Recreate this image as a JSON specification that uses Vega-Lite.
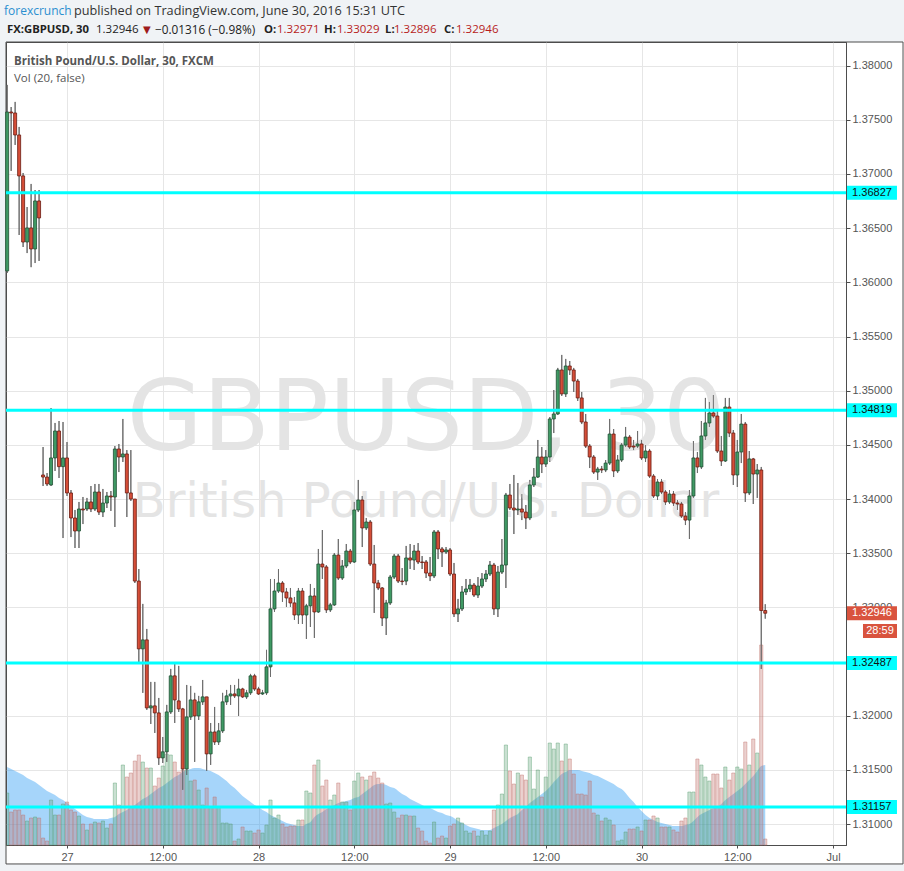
{
"$schema": "https://vega.github.io/schema/vega-lite/v6.json",
"width": 840, "height": 803,
"autosize": {"type": "none"},
"padding": {"left": 6, "top": 42, "right": 58, "bottom": 26},
"background": "white",
"config": {"view": {"stroke": "#4d4d4d", "strokeWidth": 1}},
"datasets": {
"lv": [{"p":1.36827},{"p":1.34819},{"p":1.32487},{"p":1.31157}],
"k": [
{"n":-15,"o":1.36105,"h":1.37822,"l":1.36086,"c":1.37572,"v":520,"m":780},
{"n":-14,"o":1.37572,"h":1.37618,"l":1.37028,"c":1.37563,"v":330,"m":760},
{"n":-13,"o":1.37563,"h":1.37665,"l":1.37268,"c":1.3736,"v":350,"m":740},
{"n":-12,"o":1.3736,"h":1.37434,"l":1.36437,"c":1.36982,"v":350,"m":720},
{"n":-11,"o":1.36982,"h":1.37009,"l":1.36326,"c":1.36372,"v":300,"m":700},
{"n":-10,"o":1.36372,"h":1.36695,"l":1.3627,"c":1.36502,"v":240,"m":670},
{"n":-9,"o":1.36502,"h":1.36908,"l":1.3614,"c":1.36308,"v":270,"m":650},
{"n":-8,"o":1.36308,"h":1.36852,"l":1.36178,"c":1.36751,"v":280,"m":630},
{"n":-7,"o":1.36751,"h":1.36852,"l":1.36197,"c":1.36594,"v":270,"m":600},
{"n":-6,"o":1.34222,"h":1.3448,"l":1.3412,"c":1.34203,"v":70,"m":570},
{"n":-5,"o":1.34203,"h":1.3424,"l":1.3412,"c":1.34139,"v":40,"m":540},
{"n":-4,"o":1.3413,"h":1.3484,"l":1.3412,"c":1.34379,"v":450,"m":520},
{"n":-3,"o":1.34379,"h":1.34702,"l":1.34259,"c":1.34628,"v":300,"m":500},
{"n":-2,"o":1.34628,"h":1.3472,"l":1.34194,"c":1.34299,"v":300,"m":470},
{"n":-1,"o":1.34299,"h":1.34711,"l":1.3364,"c":1.34379,"v":410,"m":450},
{"n":0,"o":1.34379,"h":1.34526,"l":1.34028,"c":1.34056,"v":430,"m":420},
{"n":1,"o":1.34056,"h":1.34083,"l":1.33649,"c":1.33825,"v":350,"m":390},
{"n":2,"o":1.33825,"h":1.33899,"l":1.33548,"c":1.33705,"v":330,"m":360},
{"n":3,"o":1.33705,"h":1.33973,"l":1.33548,"c":1.33908,"v":290,"m":330},
{"n":4,"o":1.33908,"h":1.34019,"l":1.33769,"c":1.33899,"v":210,"m":300},
{"n":5,"o":1.33908,"h":1.3401,"l":1.3389,"c":1.33973,"v":150,"m":280},
{"n":6,"o":1.33973,"h":1.3412,"l":1.3388,"c":1.33908,"v":210,"m":270},
{"n":7,"o":1.33908,"h":1.34139,"l":1.3389,"c":1.34065,"v":230,"m":260},
{"n":8,"o":1.34065,"h":1.34139,"l":1.33853,"c":1.3388,"v":220,"m":260},
{"n":9,"o":1.3388,"h":1.34093,"l":1.33834,"c":1.33963,"v":240,"m":260},
{"n":10,"o":1.33963,"h":1.34065,"l":1.33917,"c":1.34028,"v":170,"m":260},
{"n":11,"o":1.34028,"h":1.34074,"l":1.3389,"c":1.34019,"v":210,"m":270},
{"n":12,"o":1.34019,"h":1.34489,"l":1.33742,"c":1.34462,"v":620,"m":280},
{"n":13,"o":1.34462,"h":1.34508,"l":1.34249,"c":1.34388,"v":400,"m":310},
{"n":14,"o":1.34388,"h":1.34739,"l":1.34342,"c":1.34416,"v":800,"m":330},
{"n":15,"o":1.34416,"h":1.34452,"l":1.33834,"c":1.34056,"v":680,"m":350},
{"n":16,"o":1.34056,"h":1.34452,"l":1.33982,"c":1.34,"v":720,"m":380},
{"n":17,"o":1.34,"h":1.34,"l":1.33225,"c":1.33243,"v":840,"m":400},
{"n":18,"o":1.33243,"h":1.33354,"l":1.32488,"c":1.32617,"v":900,"m":430},
{"n":19,"o":1.32617,"h":1.33032,"l":1.32211,"c":1.327,"v":830,"m":460},
{"n":20,"o":1.327,"h":1.32801,"l":1.32054,"c":1.32072,"v":770,"m":480},
{"n":21,"o":1.32072,"h":1.32312,"l":1.31924,"c":1.32091,"v":770,"m":510},
{"n":22,"o":1.32091,"h":1.32312,"l":1.31841,"c":1.32026,"v":590,"m":540},
{"n":23,"o":1.32026,"h":1.32164,"l":1.31546,"c":1.31611,"v":670,"m":570},
{"n":24,"o":1.31611,"h":1.31804,"l":1.31564,"c":1.31667,"v":790,"m":590},
{"n":25,"o":1.31667,"h":1.321,"l":1.31574,"c":1.32035,"v":910,"m":620},
{"n":26,"o":1.32035,"h":1.32432,"l":1.32017,"c":1.32368,"v":900,"m":650},
{"n":27,"o":1.32368,"h":1.32478,"l":1.31933,"c":1.32146,"v":830,"m":680},
{"n":28,"o":1.32137,"h":1.3246,"l":1.32035,"c":1.32063,"v":730,"m":700},
{"n":29,"o":1.32063,"h":1.32072,"l":1.31316,"c":1.31509,"v":750,"m":730},
{"n":30,"o":1.31509,"h":1.32284,"l":1.31453,"c":1.31989,"v":750,"m":750},
{"n":31,"o":1.31989,"h":1.32275,"l":1.31961,"c":1.32146,"v":640,"m":760},
{"n":32,"o":1.32146,"h":1.32211,"l":1.31574,"c":1.31998,"v":650,"m":770},
{"n":33,"o":1.31998,"h":1.32183,"l":1.31961,"c":1.32128,"v":550,"m":770},
{"n":34,"o":1.32128,"h":1.3233,"l":1.321,"c":1.32174,"v":400,"m":760},
{"n":35,"o":1.32174,"h":1.32174,"l":1.3149,"c":1.31648,"v":570,"m":750},
{"n":36,"o":1.31648,"h":1.31933,"l":1.31546,"c":1.3185,"v":380,"m":740},
{"n":37,"o":1.3185,"h":1.32081,"l":1.3173,"c":1.31758,"v":480,"m":720},
{"n":38,"o":1.31758,"h":1.31933,"l":1.3173,"c":1.3186,"v":380,"m":700},
{"n":39,"o":1.3186,"h":1.32211,"l":1.31841,"c":1.32128,"v":220,"m":670},
{"n":40,"o":1.32128,"h":1.32238,"l":1.321,"c":1.32183,"v":220,"m":640},
{"n":41,"o":1.32183,"h":1.32284,"l":1.321,"c":1.32201,"v":210,"m":600},
{"n":42,"o":1.32201,"h":1.32284,"l":1.32164,"c":1.32183,"v":40,"m":570},
{"n":43,"o":1.32183,"h":1.3234,"l":1.31998,"c":1.32247,"v":60,"m":530},
{"n":44,"o":1.32247,"h":1.32257,"l":1.32164,"c":1.32174,"v":180,"m":490},
{"n":45,"o":1.32174,"h":1.32238,"l":1.32155,"c":1.32211,"v":140,"m":460},
{"n":46,"o":1.32211,"h":1.32386,"l":1.32192,"c":1.32368,"v":140,"m":430},
{"n":47,"o":1.32368,"h":1.32386,"l":1.32229,"c":1.32247,"v":120,"m":400},
{"n":48,"o":1.32247,"h":1.32266,"l":1.32192,"c":1.32201,"v":150,"m":380},
{"n":49,"o":1.32201,"h":1.32238,"l":1.32192,"c":1.32211,"v":120,"m":350},
{"n":50,"o":1.32211,"h":1.32608,"l":1.32192,"c":1.32451,"v":200,"m":330},
{"n":51,"o":1.32451,"h":1.33262,"l":1.32358,"c":1.32986,"v":450,"m":300},
{"n":52,"o":1.32986,"h":1.33262,"l":1.32958,"c":1.33151,"v":270,"m":280},
{"n":53,"o":1.33151,"h":1.33354,"l":1.33133,"c":1.33225,"v":300,"m":260},
{"n":54,"o":1.33225,"h":1.33243,"l":1.33051,"c":1.33142,"v":210,"m":240},
{"n":55,"o":1.33142,"h":1.33179,"l":1.33004,"c":1.33087,"v":180,"m":220},
{"n":56,"o":1.33087,"h":1.33179,"l":1.33004,"c":1.33041,"v":190,"m":210},
{"n":57,"o":1.33041,"h":1.33096,"l":1.32884,"c":1.3293,"v":190,"m":200},
{"n":58,"o":1.3293,"h":1.33179,"l":1.32847,"c":1.33151,"v":250,"m":190},
{"n":59,"o":1.33151,"h":1.33179,"l":1.32847,"c":1.3293,"v":250,"m":190},
{"n":60,"o":1.3293,"h":1.33032,"l":1.32709,"c":1.33014,"v":540,"m":210},
{"n":61,"o":1.33014,"h":1.33216,"l":1.32819,"c":1.33105,"v":520,"m":230},
{"n":62,"o":1.33105,"h":1.33179,"l":1.32718,"c":1.32958,"v":800,"m":280},
{"n":63,"o":1.32958,"h":1.33539,"l":1.32949,"c":1.334,"v":850,"m":310},
{"n":64,"o":1.334,"h":1.33714,"l":1.33262,"c":1.33373,"v":590,"m":330},
{"n":65,"o":1.33373,"h":1.33391,"l":1.32949,"c":1.32977,"v":650,"m":360},
{"n":66,"o":1.32977,"h":1.33041,"l":1.32958,"c":1.33023,"v":450,"m":380},
{"n":67,"o":1.33023,"h":1.33502,"l":1.33014,"c":1.33483,"v":500,"m":400},
{"n":68,"o":1.33483,"h":1.33631,"l":1.33253,"c":1.33271,"v":620,"m":420},
{"n":69,"o":1.33271,"h":1.33437,"l":1.33253,"c":1.33382,"v":430,"m":430},
{"n":70,"o":1.33382,"h":1.33585,"l":1.33363,"c":1.3352,"v":430,"m":440},
{"n":71,"o":1.3352,"h":1.33539,"l":1.334,"c":1.33419,"v":350,"m":450},
{"n":72,"o":1.33419,"h":1.33973,"l":1.3341,"c":1.33899,"v":640,"m":470},
{"n":73,"o":1.33899,"h":1.34176,"l":1.3388,"c":1.33991,"v":720,"m":480},
{"n":74,"o":1.33991,"h":1.34028,"l":1.33557,"c":1.33733,"v":680,"m":510},
{"n":75,"o":1.33733,"h":1.33825,"l":1.33714,"c":1.33788,"v":650,"m":540},
{"n":76,"o":1.33788,"h":1.33806,"l":1.33382,"c":1.334,"v":690,"m":570},
{"n":77,"o":1.334,"h":1.33576,"l":1.32949,"c":1.33225,"v":730,"m":600},
{"n":78,"o":1.33225,"h":1.33253,"l":1.3316,"c":1.33179,"v":670,"m":610},
{"n":79,"o":1.33179,"h":1.33188,"l":1.32828,"c":1.32902,"v":620,"m":610},
{"n":80,"o":1.32902,"h":1.33069,"l":1.32745,"c":1.33041,"v":410,"m":600},
{"n":81,"o":1.33041,"h":1.33299,"l":1.33023,"c":1.3328,"v":420,"m":580},
{"n":82,"o":1.3328,"h":1.33493,"l":1.33262,"c":1.33474,"v":330,"m":570},
{"n":83,"o":1.33474,"h":1.33493,"l":1.33225,"c":1.33243,"v":270,"m":540},
{"n":84,"o":1.33243,"h":1.33363,"l":1.33206,"c":1.33238,"v":300,"m":510},
{"n":85,"o":1.33243,"h":1.33567,"l":1.33206,"c":1.33456,"v":300,"m":490},
{"n":86,"o":1.33456,"h":1.33585,"l":1.33354,"c":1.33437,"v":290,"m":460},
{"n":87,"o":1.33437,"h":1.33576,"l":1.33345,"c":1.3352,"v":290,"m":440},
{"n":88,"o":1.3352,"h":1.33594,"l":1.334,"c":1.33419,"v":170,"m":420},
{"n":89,"o":1.33419,"h":1.33474,"l":1.33354,"c":1.33414,"v":140,"m":400},
{"n":90,"o":1.33419,"h":1.33437,"l":1.33271,"c":1.33317,"v":40,"m":380},
{"n":91,"o":1.33317,"h":1.33465,"l":1.33243,"c":1.3329,"v":20,"m":370},
{"n":92,"o":1.3329,"h":1.33714,"l":1.33271,"c":1.33696,"v":230,"m":350},
{"n":93,"o":1.33696,"h":1.33714,"l":1.33446,"c":1.33539,"v":70,"m":330},
{"n":94,"o":1.33539,"h":1.33557,"l":1.33373,"c":1.33511,"v":90,"m":320},
{"n":95,"o":1.33511,"h":1.33557,"l":1.33493,"c":1.3353,"v":70,"m":300},
{"n":96,"o":1.3353,"h":1.33548,"l":1.3329,"c":1.33308,"v":190,"m":290},
{"n":97,"o":1.33308,"h":1.3341,"l":1.32911,"c":1.3294,"v":210,"m":270},
{"n":98,"o":1.3294,"h":1.33078,"l":1.32865,"c":1.32986,"v":270,"m":240},
{"n":99,"o":1.32986,"h":1.33197,"l":1.32967,"c":1.33142,"v":220,"m":220},
{"n":100,"o":1.33142,"h":1.33262,"l":1.33114,"c":1.3317,"v":140,"m":200},
{"n":101,"o":1.3317,"h":1.33262,"l":1.33142,"c":1.33206,"v":120,"m":180},
{"n":102,"o":1.33206,"h":1.33225,"l":1.33096,"c":1.33114,"v":140,"m":170},
{"n":103,"o":1.33114,"h":1.3328,"l":1.33087,"c":1.33197,"v":90,"m":160},
{"n":104,"o":1.33197,"h":1.33317,"l":1.33179,"c":1.33262,"v":140,"m":150},
{"n":105,"o":1.33262,"h":1.33345,"l":1.33234,"c":1.33308,"v":100,"m":150},
{"n":106,"o":1.33308,"h":1.33428,"l":1.3329,"c":1.33391,"v":140,"m":150},
{"n":107,"o":1.33391,"h":1.3341,"l":1.3293,"c":1.32986,"v":350,"m":170},
{"n":108,"o":1.32986,"h":1.33382,"l":1.32911,"c":1.33326,"v":400,"m":190},
{"n":109,"o":1.33326,"h":1.33631,"l":1.33308,"c":1.33391,"v":510,"m":210},
{"n":110,"o":1.33391,"h":1.34056,"l":1.33179,"c":1.34037,"v":1000,"m":240},
{"n":111,"o":1.34037,"h":1.34139,"l":1.33899,"c":1.33917,"v":740,"m":270},
{"n":112,"o":1.33917,"h":1.34222,"l":1.33677,"c":1.33899,"v":610,"m":290},
{"n":113,"o":1.33899,"h":1.34148,"l":1.33853,"c":1.33908,"v":720,"m":310},
{"n":114,"o":1.33908,"h":1.34046,"l":1.33806,"c":1.3388,"v":700,"m":350},
{"n":115,"o":1.3388,"h":1.33945,"l":1.33723,"c":1.33825,"v":650,"m":380},
{"n":116,"o":1.33825,"h":1.34176,"l":1.33806,"c":1.3413,"v":880,"m":420},
{"n":117,"o":1.3413,"h":1.34286,"l":1.34111,"c":1.34203,"v":560,"m":450},
{"n":118,"o":1.34203,"h":1.34545,"l":1.34194,"c":1.34388,"v":750,"m":480},
{"n":119,"o":1.34388,"h":1.3448,"l":1.3424,"c":1.34323,"v":480,"m":510},
{"n":120,"o":1.34323,"h":1.34452,"l":1.34296,"c":1.34388,"v":680,"m":540},
{"n":121,"o":1.34388,"h":1.34757,"l":1.34342,"c":1.34739,"v":1020,"m":580},
{"n":122,"o":1.34739,"h":1.35006,"l":1.34609,"c":1.34785,"v":960,"m":630},
{"n":123,"o":1.34785,"h":1.3521,"l":1.34776,"c":1.35191,"v":1020,"m":670},
{"n":124,"o":1.35191,"h":1.3533,"l":1.34951,"c":1.3497,"v":840,"m":710},
{"n":125,"o":1.3497,"h":1.35293,"l":1.34942,"c":1.35228,"v":1010,"m":730},
{"n":126,"o":1.35228,"h":1.35274,"l":1.35145,"c":1.35191,"v":860,"m":750},
{"n":127,"o":1.35191,"h":1.3521,"l":1.34988,"c":1.35089,"v":710,"m":750},
{"n":128,"o":1.35089,"h":1.35108,"l":1.34905,"c":1.34933,"v":510,"m":750},
{"n":129,"o":1.34933,"h":1.34988,"l":1.34692,"c":1.34711,"v":510,"m":740},
{"n":130,"o":1.34711,"h":1.34785,"l":1.34471,"c":1.34489,"v":500,"m":730},
{"n":131,"o":1.34489,"h":1.34508,"l":1.34286,"c":1.34388,"v":640,"m":720},
{"n":132,"o":1.34388,"h":1.34406,"l":1.34231,"c":1.34249,"v":320,"m":700},
{"n":133,"o":1.34249,"h":1.34296,"l":1.34176,"c":1.34277,"v":300,"m":690},
{"n":134,"o":1.34277,"h":1.34305,"l":1.3424,"c":1.34268,"v":240,"m":670},
{"n":135,"o":1.34268,"h":1.3436,"l":1.34249,"c":1.34332,"v":270,"m":650},
{"n":136,"o":1.34332,"h":1.34739,"l":1.34314,"c":1.346,"v":250,"m":630},
{"n":137,"o":1.346,"h":1.34646,"l":1.34203,"c":1.34259,"v":200,"m":610},
{"n":138,"o":1.34259,"h":1.34406,"l":1.3424,"c":1.3436,"v":40,"m":580},
{"n":139,"o":1.3436,"h":1.34517,"l":1.34342,"c":1.34498,"v":50,"m":560},
{"n":140,"o":1.34498,"h":1.34665,"l":1.3448,"c":1.34572,"v":130,"m":520},
{"n":141,"o":1.34572,"h":1.34591,"l":1.34462,"c":1.3448,"v":160,"m":470},
{"n":142,"o":1.34489,"h":1.34545,"l":1.34452,"c":1.3448,"v":160,"m":430},
{"n":143,"o":1.34489,"h":1.34628,"l":1.34471,"c":1.34508,"v":180,"m":380},
{"n":144,"o":1.34508,"h":1.34545,"l":1.3436,"c":1.34379,"v":140,"m":340},
{"n":145,"o":1.34379,"h":1.34498,"l":1.34342,"c":1.34443,"v":250,"m":300},
{"n":146,"o":1.34443,"h":1.34462,"l":1.34194,"c":1.34212,"v":250,"m":270},
{"n":147,"o":1.34212,"h":1.34231,"l":1.3401,"c":1.34028,"v":290,"m":250},
{"n":148,"o":1.34028,"h":1.34185,"l":1.33991,"c":1.34157,"v":270,"m":230},
{"n":149,"o":1.34157,"h":1.34185,"l":1.34046,"c":1.34065,"v":180,"m":220},
{"n":150,"o":1.34065,"h":1.34083,"l":1.33945,"c":1.33973,"v":180,"m":210},
{"n":151,"o":1.33973,"h":1.34083,"l":1.33954,"c":1.34046,"v":180,"m":200},
{"n":152,"o":1.34046,"h":1.34074,"l":1.33936,"c":1.33963,"v":150,"m":190},
{"n":153,"o":1.33963,"h":1.33991,"l":1.33899,"c":1.33954,"v":130,"m":190},
{"n":154,"o":1.33954,"h":1.33973,"l":1.33825,"c":1.33843,"v":240,"m":190},
{"n":155,"o":1.33843,"h":1.3388,"l":1.3376,"c":1.33806,"v":270,"m":200},
{"n":156,"o":1.33806,"h":1.34083,"l":1.33631,"c":1.34028,"v":530,"m":210},
{"n":157,"o":1.34028,"h":1.34535,"l":1.3401,"c":1.34379,"v":530,"m":240},
{"n":158,"o":1.34379,"h":1.34434,"l":1.3424,"c":1.34296,"v":860,"m":280},
{"n":159,"o":1.34296,"h":1.3472,"l":1.34277,"c":1.34582,"v":800,"m":310},
{"n":160,"o":1.34582,"h":1.34933,"l":1.34545,"c":1.34702,"v":680,"m":330},
{"n":161,"o":1.34702,"h":1.34896,"l":1.34665,"c":1.34794,"v":640,"m":350},
{"n":162,"o":1.34794,"h":1.3496,"l":1.34748,"c":1.34766,"v":710,"m":370},
{"n":163,"o":1.34766,"h":1.34822,"l":1.34425,"c":1.34443,"v":710,"m":380},
{"n":164,"o":1.34443,"h":1.34582,"l":1.34305,"c":1.34351,"v":570,"m":410},
{"n":165,"o":1.34351,"h":1.34933,"l":1.34342,"c":1.34849,"v":780,"m":450},
{"n":166,"o":1.34849,"h":1.34933,"l":1.34572,"c":1.34609,"v":650,"m":480},
{"n":167,"o":1.34609,"h":1.34637,"l":1.3413,"c":1.34222,"v":720,"m":510},
{"n":168,"o":1.34222,"h":1.34545,"l":1.34111,"c":1.34434,"v":780,"m":540},
{"n":169,"o":1.34434,"h":1.34785,"l":1.34332,"c":1.34692,"v":760,"m":570},
{"n":170,"o":1.34692,"h":1.34711,"l":1.33973,"c":1.34056,"v":1030,"m":610},
{"n":171,"o":1.34056,"h":1.34443,"l":1.34037,"c":1.3437,"v":800,"m":650},
{"n":172,"o":1.3437,"h":1.34379,"l":1.33954,"c":1.34231,"v":1060,"m":690},
{"n":173,"o":1.34231,"h":1.34323,"l":1.3401,"c":1.34268,"v":920,"m":740},
{"n":174,"o":1.34268,"h":1.34296,"l":1.32432,"c":1.32971,"v":2000,"m":790},
{"n":175,"o":1.32971,"h":1.33029,"l":1.32896,"c":1.32946,"v":60,"m":800}
]},
"data": {"values": [{}]},
"resolve": {"scale": {"y": "independent"}, "axis": {"x": "independent"}},
"layer": [
  {"data": {"name": "k"},
   "mark": {"type": "rule", "color": "#6e6e6e", "strokeWidth": 1},
   "encoding": {"x": {"field": "n", "type": "quantitative", "scale": {"domain": [-15.29, 195.24], "nice": false, "zero": false, "padding": 0},
                      "axis": {"orient": "bottom", "values": [0, 24, 48, 72, 96, 120, 144, 168, 192], "labelExpr": "datum.value==0?'27':datum.value==48?'28':datum.value==96?'29':datum.value==144?'30':datum.value==192?'Jul':'12:00'", "title": null, "grid": true, "gridColor": "#e6e6e6", "domainColor": "#4d4d4d", "tickColor": "#4d4d4d", "tickSize": 3, "labelFont": "Liberation Sans", "labelFontSize": 11, "labelColor": "#555555", "labelPadding": 3, "labelFlush": false, "labelOverlap": false}},
                "y": {"field": "l", "type": "quantitative", "scale": {"domain": [1.30807, 1.38218], "nice": false, "zero": false, "padding": 0},
                      "axis": {"orient": "right", "values": [1.31, 1.315, 1.32, 1.325, 1.33, 1.335, 1.34, 1.345, 1.35, 1.355, 1.36, 1.365, 1.37, 1.375, 1.38], "format": ".5f", "labelExpr": "datum.value==1.325?'':datum.label", "title": null, "grid": true, "gridColor": "#e6e6e6", "domainColor": "#4d4d4d", "tickColor": "#4d4d4d", "tickSize": 4, "labelFont": "Liberation Sans", "labelFontSize": 11, "labelColor": "#555555", "labelPadding": 2, "labelFlush": false, "labelOverlap": false}},
                "y2": {"field": "h"}}},
  {"data": {"name": "k"},
   "mark": {"type": "area", "color": "#2196f3", "opacity": 0.4, "interpolate": "monotone"},
   "encoding": {"x": {"field": "n", "type": "quantitative", "scale": {"domain": [-15.29, 195.24], "nice": false, "zero": false, "padding": 0}, "axis": null},
                "y": {"field": "m", "type": "quantitative", "scale": {"domain": [0, 8030], "nice": false, "padding": 0}, "axis": null}}},
  {"data": {"name": "k"},
   "mark": {"type": "bar", "orient": "vertical", "width": 3.2, "fillOpacity": 0.32, "strokeOpacity": 0.6, "strokeWidth": 0.7},
   "encoding": {"x": {"field": "n", "type": "quantitative", "scale": {"domain": [-15.29, 195.24], "nice": false, "zero": false, "padding": 0}, "axis": null},
                "y": {"field": "v", "type": "quantitative", "scale": {"domain": [0, 8030], "nice": false, "padding": 0}, "axis": null},
                "fill": {"condition": {"test": "datum.c >= datum.o", "value": "#5a9e72"}, "value": "#c0706a"},
                "stroke": {"condition": {"test": "datum.c >= datum.o", "value": "#5a9e72"}, "value": "#c0706a"}}},
  {"mark": {"type": "rect", "color": "#f0f3f6"},
   "encoding": {"x": {"datum": -16.8, "type": "quantitative", "scale": {"domain": [-15.29, 195.24], "nice": false, "zero": false, "padding": 0}, "axis": null},
                "x2": {"datum": 209.8},
                "y": {"datum": 1.3861, "type": "quantitative", "scale": {"domain": [1.30807, 1.38218], "nice": false, "zero": false, "padding": 0}, "axis": null},
                "y2": {"datum": 1.38218}}},
  {"mark": {"type": "rect", "color": "#f0f3f6"},
   "encoding": {"x": {"datum": -16.8, "type": "quantitative", "scale": {"domain": [-15.29, 195.24], "nice": false, "zero": false, "padding": 0}, "axis": null},
                "x2": {"datum": -15.29},
                "y": {"datum": 1.38218, "type": "quantitative", "scale": {"domain": [1.30807, 1.38218], "nice": false, "zero": false, "padding": 0}, "axis": null},
                "y2": {"datum": 1.3056}}},
  {"mark": {"type": "rect", "color": "#f0f3f6"},
   "encoding": {"x": {"datum": -16.8, "type": "quantitative", "scale": {"domain": [-15.29, 195.24], "nice": false, "zero": false, "padding": 0}, "axis": null},
                "x2": {"datum": 209.8},
                "y": {"datum": 1.30632, "type": "quantitative", "scale": {"domain": [1.30807, 1.38218], "nice": false, "zero": false, "padding": 0}, "axis": null},
                "y2": {"datum": 1.3056}}},
  {"mark": {"type": "rect", "fillOpacity": 0, "stroke": "#4d4d4d", "strokeWidth": 1},
   "encoding": {"x": {"datum": -15.29, "type": "quantitative", "scale": {"domain": [-15.29, 195.24], "nice": false, "zero": false, "padding": 0}, "axis": null},
                "x2": {"datum": 209.53},
                "y": {"datum": 1.38218, "type": "quantitative", "scale": {"domain": [1.30807, 1.38218], "nice": false, "zero": false, "padding": 0}, "axis": null},
                "y2": {"datum": 1.30632}}},
  {"mark": {"type": "text", "font": "DejaVu Sans", "fontSize": 98, "color": "#e4e4e4", "align": "center", "baseline": "alphabetic"},
   "encoding": {"x": {"datum": 89.98, "type": "quantitative", "scale": {"domain": [-15.29, 195.24], "nice": false, "zero": false, "padding": 0}, "axis": null},
                "y": {"datum": 1.34452, "type": "quantitative", "scale": {"domain": [1.30807, 1.38218], "nice": false, "zero": false, "padding": 0}, "axis": null},
                "text": {"value": "GBPUSD, 30"}}},
  {"mark": {"type": "text", "font": "DejaVu Sans", "fontSize": 48, "color": "#e4e4e4", "align": "center", "baseline": "alphabetic"},
   "encoding": {"x": {"datum": 89.98, "type": "quantitative", "scale": {"domain": [-15.29, 195.24], "nice": false, "zero": false, "padding": 0}, "axis": null},
                "y": {"datum": 1.33834, "type": "quantitative", "scale": {"domain": [1.30807, 1.38218], "nice": false, "zero": false, "padding": 0}, "axis": null},
                "text": {"value": "British Pound/U.S. Dollar"}}},
  {"data": {"name": "k"},
   "mark": {"type": "rule", "color": "#6e6e6e", "strokeWidth": 1},
   "encoding": {"x": {"field": "n", "type": "quantitative", "scale": {"domain": [-15.29, 195.24], "nice": false, "zero": false, "padding": 0}, "axis": null},
                "y": {"field": "l", "type": "quantitative", "scale": {"domain": [1.30807, 1.38218], "nice": false, "zero": false, "padding": 0}, "axis": null},
                "y2": {"field": "h"}}},
  {"data": {"name": "k"},
   "mark": {"type": "bar", "orient": "vertical", "width": 3, "strokeWidth": 0.8},
   "encoding": {"x": {"field": "n", "type": "quantitative", "scale": {"domain": [-15.29, 195.24], "nice": false, "zero": false, "padding": 0}, "axis": null},
                "y": {"field": "o", "type": "quantitative", "scale": {"domain": [1.30807, 1.38218], "nice": false, "zero": false, "padding": 0}, "axis": null},
                "y2": {"field": "c"},
                "fill": {"condition": {"test": "datum.c >= datum.o", "value": "#3f9a64"}, "value": "#d64e38"},
                "stroke": {"condition": {"test": "datum.c >= datum.o", "value": "#1f4f33"}, "value": "#6b1a10"}}},
  {"data": {"name": "lv"},
   "mark": {"type": "rule", "color": "#00ffff", "strokeWidth": 3},
   "encoding": {"y": {"field": "p", "type": "quantitative", "scale": {"domain": [1.30807, 1.38218], "nice": false, "zero": false, "padding": 0}, "axis": null}}},
  {"data": {"name": "lv"},
   "mark": {"type": "tick", "orient": "horizontal", "size": 50, "thickness": 14, "color": "#00ffff", "opacity": 1},
   "encoding": {"x": {"datum": 201.75, "type": "quantitative", "scale": {"domain": [-15.29, 195.24], "nice": false, "zero": false, "padding": 0}, "axis": null},
                "y": {"field": "p", "type": "quantitative", "scale": {"domain": [1.30807, 1.38218], "nice": false, "zero": false, "padding": 0}, "axis": null}}},
  {"data": {"name": "lv"},
   "mark": {"type": "text", "font": "Liberation Sans", "fontSize": 11, "color": "#111111", "align": "center", "baseline": "middle"},
   "encoding": {"x": {"datum": 201.75, "type": "quantitative", "scale": {"domain": [-15.29, 195.24], "nice": false, "zero": false, "padding": 0}, "axis": null},
                "y": {"field": "p", "type": "quantitative", "scale": {"domain": [1.30807, 1.38218], "nice": false, "zero": false, "padding": 0}, "axis": null},
                "text": {"field": "p", "format": ".5f"}}},
  {"mark": {"type": "tick", "orient": "horizontal", "size": 50, "thickness": 14, "color": "#d9533e", "opacity": 1},
   "encoding": {"x": {"datum": 201.75, "type": "quantitative", "scale": {"domain": [-15.29, 195.24], "nice": false, "zero": false, "padding": 0}, "axis": null},
                "y": {"datum": 1.32946, "type": "quantitative", "scale": {"domain": [1.30807, 1.38218], "nice": false, "zero": false, "padding": 0}, "axis": null}}},
  {"mark": {"type": "text", "font": "Liberation Sans", "fontSize": 11, "color": "white", "align": "center", "baseline": "middle"},
   "encoding": {"x": {"datum": 201.75, "type": "quantitative", "scale": {"domain": [-15.29, 195.24], "nice": false, "zero": false, "padding": 0}, "axis": null},
                "y": {"datum": 1.32946, "type": "quantitative", "scale": {"domain": [1.30807, 1.38218], "nice": false, "zero": false, "padding": 0}, "axis": null},
                "text": {"value": "1.32946"}}},
  {"mark": {"type": "tick", "orient": "horizontal", "size": 34, "thickness": 14, "color": "#d9533e", "opacity": 1},
   "encoding": {"x": {"datum": 203.76, "type": "quantitative", "scale": {"domain": [-15.29, 195.24], "nice": false, "zero": false, "padding": 0}, "axis": null},
                "y": {"datum": 1.32782, "type": "quantitative", "scale": {"domain": [1.30807, 1.38218], "nice": false, "zero": false, "padding": 0}, "axis": null}}},
  {"mark": {"type": "text", "font": "Liberation Sans", "fontSize": 11, "color": "white", "align": "center", "baseline": "middle"},
   "encoding": {"x": {"datum": 203.76, "type": "quantitative", "scale": {"domain": [-15.29, 195.24], "nice": false, "zero": false, "padding": 0}, "axis": null},
                "y": {"datum": 1.32782, "type": "quantitative", "scale": {"domain": [1.30807, 1.38218], "nice": false, "zero": false, "padding": 0}, "axis": null},
                "text": {"value": "28:59"}}},
  {"mark": {"type": "text", "font": "Open Sans", "fontSize": 12, "color": "#2a8fd0", "align": "left", "baseline": "middle"},
   "encoding": {"x": {"datum": -15.79, "type": "quantitative", "scale": {"domain": [-15.29, 195.24], "nice": false, "zero": false, "padding": 0}, "axis": null},
                "y": {"datum": 1.38504, "type": "quantitative", "scale": {"domain": [1.30807, 1.38218], "nice": false, "zero": false, "padding": 0}, "axis": null},
                "text": {"value": "forexcrunch"}}},
  {"mark": {"type": "text", "font": "Open Sans", "fontSize": 12.7, "color": "#333333", "align": "left", "baseline": "middle"},
   "encoding": {"x": {"datum": 1.75, "type": "quantitative", "scale": {"domain": [-15.29, 195.24], "nice": false, "zero": false, "padding": 0}, "axis": null},
                "y": {"datum": 1.38504, "type": "quantitative", "scale": {"domain": [1.30807, 1.38218], "nice": false, "zero": false, "padding": 0}, "axis": null},
                "text": {"value": "published on TradingView.com, June 30, 2016 15:31 UTC"}}},
  {"mark": {"type": "text", "font": "Open Sans", "fontSize": 11.3, "fontWeight": "bold", "color": "#222222", "align": "left", "baseline": "middle"},
   "encoding": {"x": {"datum": -15.04, "type": "quantitative", "scale": {"domain": [-15.29, 195.24], "nice": false, "zero": false, "padding": 0}, "axis": null},
                "y": {"datum": 1.38329, "type": "quantitative", "scale": {"domain": [1.30807, 1.38218], "nice": false, "zero": false, "padding": 0}, "axis": null},
                "text": {"value": "FX:GBPUSD, 30"}}},
  {"mark": {"type": "text", "font": "Open Sans", "fontSize": 11.5, "color": "#222222", "align": "left", "baseline": "middle"},
   "encoding": {"x": {"datum": 7.27, "type": "quantitative", "scale": {"domain": [-15.29, 195.24], "nice": false, "zero": false, "padding": 0}, "axis": null},
                "y": {"datum": 1.38329, "type": "quantitative", "scale": {"domain": [1.30807, 1.38218], "nice": false, "zero": false, "padding": 0}, "axis": null},
                "text": {"value": "1.32946"}}},
  {"mark": {"type": "text", "font": "DejaVu Sans", "fontSize": 10, "color": "#9e1b1b", "align": "left", "baseline": "middle"},
   "encoding": {"x": {"datum": 19.05, "type": "quantitative", "scale": {"domain": [-15.29, 195.24], "nice": false, "zero": false, "padding": 0}, "axis": null},
                "y": {"datum": 1.38329, "type": "quantitative", "scale": {"domain": [1.30807, 1.38218], "nice": false, "zero": false, "padding": 0}, "axis": null},
                "text": {"value": "▼"}}},
  {"mark": {"type": "text", "font": "Open Sans", "fontSize": 11.8, "color": "#222222", "align": "left", "baseline": "middle"},
   "encoding": {"x": {"datum": 22.05, "type": "quantitative", "scale": {"domain": [-15.29, 195.24], "nice": false, "zero": false, "padding": 0}, "axis": null},
                "y": {"datum": 1.38329, "type": "quantitative", "scale": {"domain": [1.30807, 1.38218], "nice": false, "zero": false, "padding": 0}, "axis": null},
                "text": {"value": "−0.01316 (−0.98%)"}}},
  {"mark": {"type": "text", "font": "Open Sans", "fontSize": 11.3, "fontWeight": "bold", "color": "#222222", "align": "left", "baseline": "middle"},
   "encoding": {"x": {"datum": 49.37, "type": "quantitative", "scale": {"domain": [-15.29, 195.24], "nice": false, "zero": false, "padding": 0}, "axis": null},
                "y": {"datum": 1.38329, "type": "quantitative", "scale": {"domain": [1.30807, 1.38218], "nice": false, "zero": false, "padding": 0}, "axis": null},
                "text": {"value": "O:"}}},
  {"mark": {"type": "text", "font": "Open Sans", "fontSize": 11.5, "color": "#b71c1c", "align": "left", "baseline": "middle"},
   "encoding": {"x": {"datum": 52.63, "type": "quantitative", "scale": {"domain": [-15.29, 195.24], "nice": false, "zero": false, "padding": 0}, "axis": null},
                "y": {"datum": 1.38329, "type": "quantitative", "scale": {"domain": [1.30807, 1.38218], "nice": false, "zero": false, "padding": 0}, "axis": null},
                "text": {"value": "1.32971"}}},
  {"mark": {"type": "text", "font": "Open Sans", "fontSize": 11.3, "fontWeight": "bold", "color": "#222222", "align": "left", "baseline": "middle"},
   "encoding": {"x": {"datum": 64.41, "type": "quantitative", "scale": {"domain": [-15.29, 195.24], "nice": false, "zero": false, "padding": 0}, "axis": null},
                "y": {"datum": 1.38329, "type": "quantitative", "scale": {"domain": [1.30807, 1.38218], "nice": false, "zero": false, "padding": 0}, "axis": null},
                "text": {"value": "H:"}}},
  {"mark": {"type": "text", "font": "Open Sans", "fontSize": 11.5, "color": "#b71c1c", "align": "left", "baseline": "middle"},
   "encoding": {"x": {"datum": 67.67, "type": "quantitative", "scale": {"domain": [-15.29, 195.24], "nice": false, "zero": false, "padding": 0}, "axis": null},
                "y": {"datum": 1.38329, "type": "quantitative", "scale": {"domain": [1.30807, 1.38218], "nice": false, "zero": false, "padding": 0}, "axis": null},
                "text": {"value": "1.33029"}}},
  {"mark": {"type": "text", "font": "Open Sans", "fontSize": 11.3, "fontWeight": "bold", "color": "#222222", "align": "left", "baseline": "middle"},
   "encoding": {"x": {"datum": 79.7, "type": "quantitative", "scale": {"domain": [-15.29, 195.24], "nice": false, "zero": false, "padding": 0}, "axis": null},
                "y": {"datum": 1.38329, "type": "quantitative", "scale": {"domain": [1.30807, 1.38218], "nice": false, "zero": false, "padding": 0}, "axis": null},
                "text": {"value": "L:"}}},
  {"mark": {"type": "text", "font": "Open Sans", "fontSize": 11.5, "color": "#b71c1c", "align": "left", "baseline": "middle"},
   "encoding": {"x": {"datum": 81.96, "type": "quantitative", "scale": {"domain": [-15.29, 195.24], "nice": false, "zero": false, "padding": 0}, "axis": null},
                "y": {"datum": 1.38329, "type": "quantitative", "scale": {"domain": [1.30807, 1.38218], "nice": false, "zero": false, "padding": 0}, "axis": null},
                "text": {"value": "1.32896"}}},
  {"mark": {"type": "text", "font": "Open Sans", "fontSize": 11.3, "fontWeight": "bold", "color": "#222222", "align": "left", "baseline": "middle"},
   "encoding": {"x": {"datum": 94.49, "type": "quantitative", "scale": {"domain": [-15.29, 195.24], "nice": false, "zero": false, "padding": 0}, "axis": null},
                "y": {"datum": 1.38329, "type": "quantitative", "scale": {"domain": [1.30807, 1.38218], "nice": false, "zero": false, "padding": 0}, "axis": null},
                "text": {"value": "C:"}}},
  {"mark": {"type": "text", "font": "Open Sans", "fontSize": 11.5, "color": "#b71c1c", "align": "left", "baseline": "middle"},
   "encoding": {"x": {"datum": 97.49, "type": "quantitative", "scale": {"domain": [-15.29, 195.24], "nice": false, "zero": false, "padding": 0}, "axis": null},
                "y": {"datum": 1.38329, "type": "quantitative", "scale": {"domain": [1.30807, 1.38218], "nice": false, "zero": false, "padding": 0}, "axis": null},
                "text": {"value": "1.32946"}}},
  {"mark": {"type": "text", "font": "Open Sans", "fontSize": 11.5, "fontWeight": "bold", "color": "#555555", "align": "left", "baseline": "middle"},
   "encoding": {"x": {"datum": -13.29, "type": "quantitative", "scale": {"domain": [-15.29, 195.24], "nice": false, "zero": false, "padding": 0}, "axis": null},
                "y": {"datum": 1.38038, "type": "quantitative", "scale": {"domain": [1.30807, 1.38218], "nice": false, "zero": false, "padding": 0}, "axis": null},
                "text": {"value": "British Pound/U.S. Dollar, 30, FXCM"}}},
  {"mark": {"type": "text", "font": "Open Sans", "fontSize": 11.5, "color": "#555555", "align": "left", "baseline": "middle"},
   "encoding": {"x": {"datum": -13.29, "type": "quantitative", "scale": {"domain": [-15.29, 195.24], "nice": false, "zero": false, "padding": 0}, "axis": null},
                "y": {"datum": 1.37881, "type": "quantitative", "scale": {"domain": [1.30807, 1.38218], "nice": false, "zero": false, "padding": 0}, "axis": null},
                "text": {"value": "Vol (20, false)"}}}
]
}
